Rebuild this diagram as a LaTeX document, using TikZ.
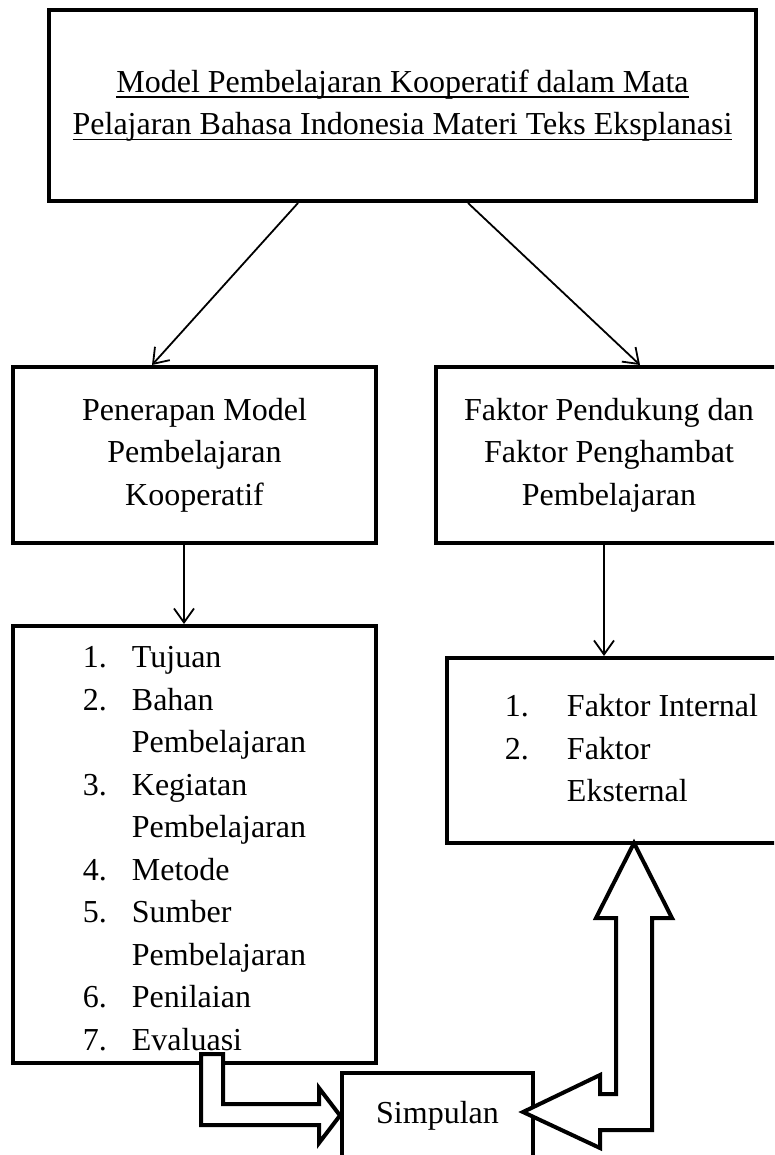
\documentclass[tikz,border=0pt]{standalone}
\usepackage{fontspec}
\setmainfont{Liberation Serif}
\usetikzlibrary{arrows.meta,positioning}
\newsavebox{\ulbox}
\newcommand{\uText}[1]{\sbox{\ulbox}{#1}\rlap{\rule[-5.6pt]{\wd\ulbox}{1.6pt}}\usebox{\ulbox}}
\tikzstyle{titleBox} = [rectangle, minimum width=707pt, minimum height=191pt, text centered, align=center, draw=black, line width=4pt]
\tikzstyle{process} = [rectangle, minimum height=176pt, text centered, align=center, draw=black, line width=4pt]
\tikzstyle{listBox} = [rectangle, inner sep=0pt, draw=black, line width=4pt]
\tikzstyle{arrow} = [-{Straight Barb[length=14pt,width=20pt]}, line width=1.8pt]
\tikzstyle{blockArrow} = [draw=black, fill=white, line width=4pt]

\begin{document}
\begin{tikzpicture}[x=1pt, y=-1pt, font=\fontsize{32}{42.5}\selectfont]
\useasboundingbox (0,0) rectangle (774,1155);
\clip (0,0) rectangle (774,1155);
% Draw shapes
\node (judul) [titleBox] at (402.5,105.5)
{\uText{Model Pembelajaran Kooperatif dalam Mata}\\
\uText{Pelajaran Bahasa Indonesia Materi Teks Eksplanasi}};
\node (Penerapan) [process, minimum width=363pt, below of = judul, node distance=349.5pt, xshift=-208pt]
{Penerapan Model\\Pembelajaran\\Kooperatif};
\node (Faktor) [process, minimum width=346pt, below of = judul, node distance=349.5pt, xshift=206.5pt]
{Faktor Pendukung dan\\Faktor Penghambat\\Pembelajaran};
\node (Komponen) [listBox, minimum width=363pt, minimum height=433pt, below of = Penerapan, node distance=389.5pt]
{\begin{tabular}{@{}l@{\hspace{25pt}}l@{}}
\rule{0pt}{41.75pt}1. & Tujuan\\
2. & Bahan\\
   & Pembelajaran\\
3. & Kegiatan\\
   & Pembelajaran\\
4. & Metode\\
5. & Sumber\\
   & Pembelajaran\\
6. & Penilaian\\
7. & Evaluasi\\
\end{tabular}};
\node (FaktorList) [listBox, minimum width=369pt, minimum height=185pt, below of = Faktor, node distance=295.5pt, xshift=22.5pt]
{\begin{tabular}{@{}l@{\hspace{38pt}}l@{}}
1. & Faktor Internal\\
2. & Faktor\\
   & Eksternal\\
\end{tabular}};
\node (Simpulan) [process, minimum width=191pt, minimum height=85pt, below of = Komponen, node distance=271pt, xshift=243pt]
{Simpulan};
% Draw arrows
\draw [arrow] ([xshift=-104.5pt]judul.south) -- ([xshift=-42.5pt]Penerapan.north);
\draw [arrow] ([xshift=65.5pt]judul.south) -- ([xshift=31pt]Faktor.north);
\draw [arrow] ([xshift=-10.5pt]Penerapan.south) -- ([xshift=-10.5pt]Penerapan.south |- Komponen.north);
\draw [arrow] ([xshift=-5pt]Faktor.south) -- ([xshift=-5pt]Faktor.south |- FaktorList.north);
% Block arrows
\draw [blockArrow] (201,1054) -- (223,1054) -- (223,1104) -- (319,1104) -- (319,1088)
  -- (Simpulan.west) -- (319,1143) -- (319,1125) -- (201,1125) -- cycle;
\draw [blockArrow] (616,918) -- (616,1094) -- (600,1094) -- (600,1075) -- (523,1112)
  -- (600,1148) -- (600,1130) -- (652,1130) -- (652,918) -- (672,918)
  -- (634,843) -- (596,918) -- cycle;
\end{tikzpicture}
\end{document}
